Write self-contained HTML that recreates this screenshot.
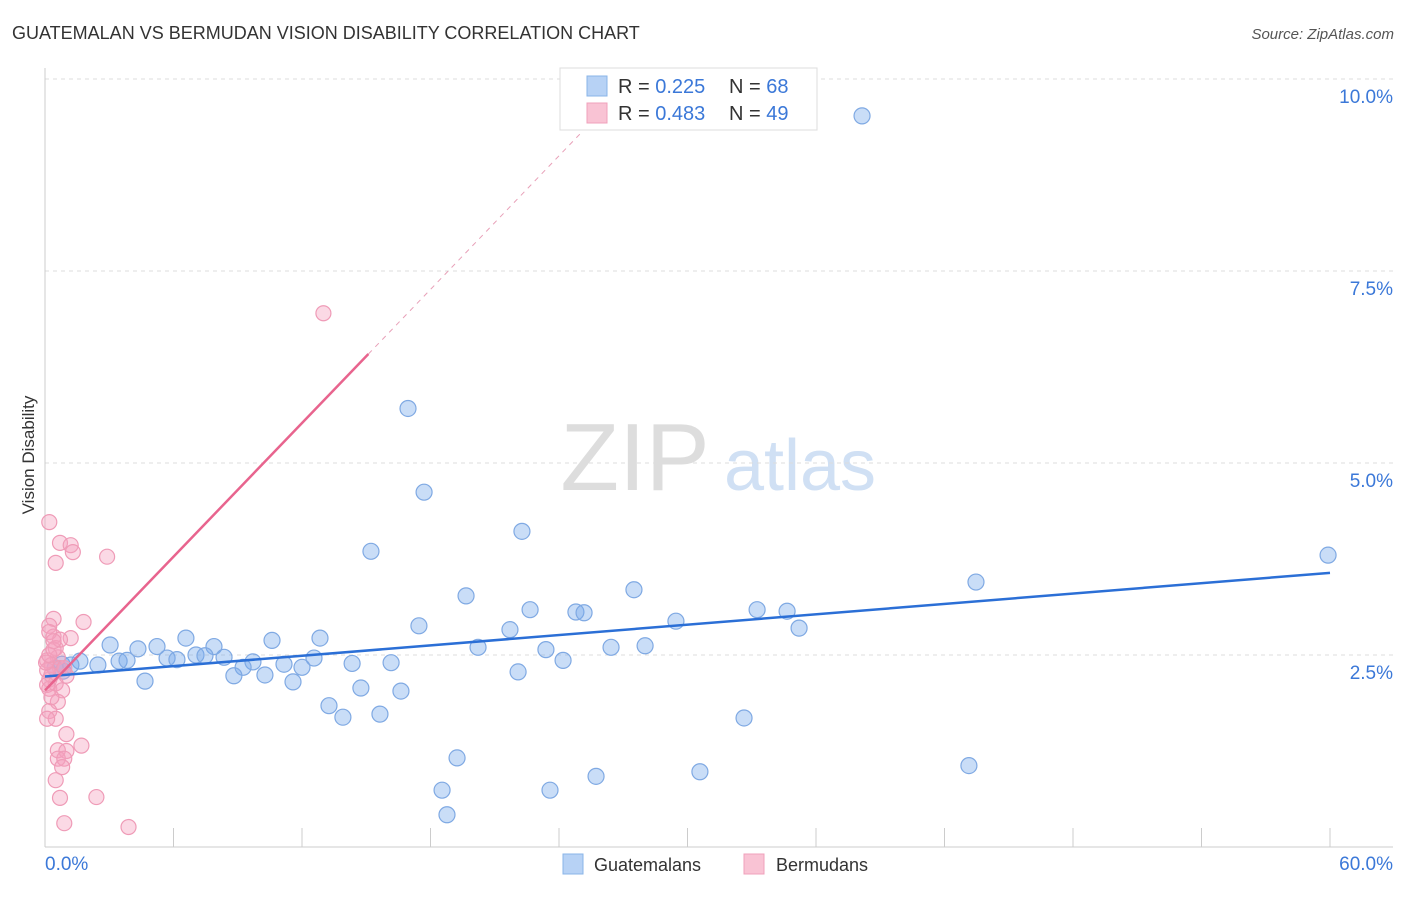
<!DOCTYPE html>
<html><head><meta charset="utf-8"><style>
body{margin:0;background:#fff;font-family:"Liberation Sans",sans-serif;}
svg text{font-family:"Liberation Sans",sans-serif;}
</style></head><body>
<svg id="c" width="1406" height="892" viewBox="0 0 1406 892">
<text x="12" y="39" font-size="18" fill="#333">GUATEMALAN VS BERMUDAN VISION DISABILITY CORRELATION CHART</text>
<text x="1394" y="39" font-size="15" fill="#555" font-style="italic" text-anchor="end">Source: ZipAtlas.com</text>
<text x="635" y="490" font-size="96" fill="#ddd" font-family="Liberation Serif" text-anchor="middle">ZIP</text>
<text x="800" y="490" font-size="72" fill="#d0e0f4" text-anchor="middle">atlas</text>
<text transform="translate(34,455) rotate(-90)" font-size="17" fill="#333" text-anchor="middle">Vision Disability</text>
<g id="grid"></g><g id="pts"></g><g id="lines"></g>
<g>
<rect x="560" y="68" width="257" height="62" fill="#fff" stroke="#ddd"/>
<rect x="587" y="76" width="20" height="20" fill="#b7d2f5" stroke="#8ab4e8"/>
<rect x="587" y="103" width="20" height="20" fill="#f9c3d4" stroke="#f0a0bb"/>
<text x="618" y="93" font-size="20" fill="#333">R = <tspan fill="#3b78d8">0.225</tspan></text>
<text x="729" y="93" font-size="20" fill="#333">N = <tspan fill="#3b78d8">68</tspan></text>
<text x="618" y="120" font-size="20" fill="#333">R = <tspan fill="#3b78d8">0.483</tspan></text>
<text x="729" y="120" font-size="20" fill="#333">N = <tspan fill="#3b78d8">49</tspan></text>
</g>
<g>
<rect x="563" y="854" width="20" height="20" fill="#b7d2f5" stroke="#8ab4e8"/>
<text x="594" y="871" font-size="18" fill="#333">Guatemalans</text>
<rect x="744" y="854" width="20" height="20" fill="#f9c3d4" stroke="#f0a0bb"/>
<text x="776" y="871" font-size="18" fill="#333">Bermudans</text>
</g>
</svg>
<script>
const xTicks=[0,6,12,18,24,30,36,42,48,54,60];
const yTicks=[2.5,5,7.5,10];
const blueX=[38.15,16.95,17.70,22.27,15.22,59.91,43.47,27.50,19.66,22.65,24.79,25.17,33.25,34.65,29.46,35.21,17.46,21.71,3.04,4.34,5.23,6.58,7.89,10.60,12.84,28.02,26.43,20.22,23.39,5.70,6.16,7.05,7.47,8.36,9.71,12.56,14.34,16.16,24.19,3.46,3.83,1.63,0.79,2.47,1.21,0.47,9.25,11.16,12.00,8.82,10.27,4.67,11.58,22.09,14.75,16.62,13.26,13.91,15.64,32.64,19.24,43.14,30.58,25.73,18.54,23.58,18.77,0.84];
const blueY=[9.52,5.71,4.62,4.11,3.85,3.80,3.45,3.35,3.27,3.09,3.06,3.05,3.09,3.07,2.94,2.85,2.88,2.83,2.63,2.58,2.61,2.72,2.61,2.69,2.72,2.62,2.60,2.60,2.57,2.46,2.44,2.50,2.49,2.47,2.41,2.46,2.39,2.40,2.43,2.42,2.43,2.42,2.38,2.37,2.37,2.33,2.34,2.38,2.34,2.23,2.24,2.16,2.15,2.28,2.07,2.03,1.84,1.69,1.73,1.68,1.16,1.06,0.98,0.92,0.74,0.74,0.42,2.29];
const pinkX=[13.0,0.2,0.7,1.2,1.3,2.9,0.5,0.4,1.8,0.2,0.4,1.2,0.5,0.6,0.1,0.3,0.7,1.0,0.2,0.5,0.2,0.8,0.6,0.2,0.5,1.0,1.7,0.6,1.0,0.6,0.9,0.8,0.5,2.4,0.7,0.9,3.9,0.1,0.3,0.05,0.2,0.4,0.1,0.3,0.1,0.7,0.2,0.9,0.4];
const pinkY=[6.95,4.23,3.96,3.93,3.84,3.78,3.70,2.97,2.93,2.88,2.74,2.72,2.59,2.47,2.43,2.37,2.33,2.23,2.18,2.13,2.06,2.04,1.89,1.77,1.67,1.47,1.32,1.26,1.25,1.15,1.15,1.04,0.87,0.65,0.64,0.31,0.26,2.30,2.24,2.40,2.50,2.57,2.11,1.95,1.67,2.70,2.80,2.33,2.68];
const blueLine=[2.22,3.57];
const pinkLine=[2.04,0.29];
const X=v=>45+v/60*1285, Y=v=>847-v*76.8;
const ns="http://www.w3.org/2000/svg";
function mk(p,t,a){const e=document.createElementNS(ns,t);for(const k in a)e.setAttribute(k,a[k]);p.appendChild(e);return e;}
const g=document.getElementById('grid');
yTicks.forEach(v=>{const l=mk(g,'line',{x1:45,x2:1393,y1:Y(v),y2:Y(v),stroke:'#ddd','stroke-dasharray':'4,4'});


const t=mk(g,'text',{x:1393,y:Y(v)+24,'font-size':19,fill:'#3b78d8','text-anchor':'end'});t.textContent=v.toFixed(1)+'%';

});
mk(g,'line',{x1:45,x2:45,y1:68,y2:847,stroke:'#ccc'});
mk(g,'line',{x1:45,x2:1393,y1:847,y2:847,stroke:'#ccc'});
xTicks.forEach(v=>{const l=mk(g,'line',{x1:X(v),x2:X(v),y1:828,y2:847,stroke:'#ccc'});

});
[[0,45,'start'],[60,1393,'end']].forEach(([v,x,a])=>{const t=mk(g,'text',{x:x,y:870,'font-size':19,fill:'#3b78d8','text-anchor':a});t.textContent=v.toFixed(1)+'%';

});
const p=document.getElementById('pts');
blueX.forEach((v,i)=>{const c=mk(p,'circle',{cx:X(v),cy:Y(blueY[i]),r:8,fill:'rgba(120,170,235,0.4)',stroke:'#7fa9e3','stroke-width':1.2});

});
pinkX.forEach((v,i)=>{const c=mk(p,'circle',{cx:X(v),cy:Y(pinkY[i]),r:7.5,fill:'rgba(245,160,190,0.4)',stroke:'#ef9bb7','stroke-width':1.2});

});
const L=document.getElementById('lines');
const bl=mk(L,'line',{x1:X(0),y1:Y(blueLine[0]),x2:X(60),y2:Y(blueLine[1]),stroke:'#2b6fd6','stroke-width':2.5});


const pf=x=>pinkLine[0]+pinkLine[1]*x;
const pl=mk(L,'line',{x1:X(0),y1:Y(pf(0)),x2:X(15.1),y2:Y(pf(15.1)),stroke:'#e8648e','stroke-width':2.5});


const pd=mk(L,'line',{x1:X(15.1),y1:Y(pf(15.1)),x2:X(25),y2:Y(pf(25)),stroke:'#e8a0b8','stroke-width':1,'stroke-dasharray':'5,5'});


</script>
</body></html>
